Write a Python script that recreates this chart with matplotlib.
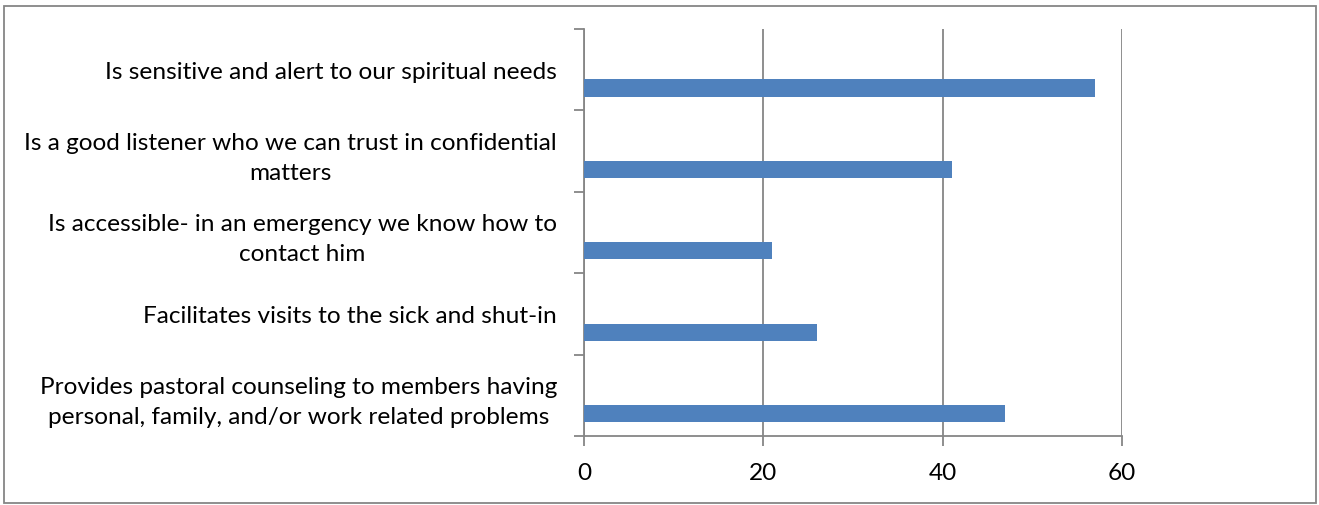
import matplotlib.pyplot as plt
from matplotlib.patches import Rectangle

categories = [
    "Is sensitive and alert to our spiritual needs",
    "Is a good listener who we can trust in confidential\nmatters",
    "Is accessible- in an emergency we know how to\ncontact him",
    "Facilitates visits to the sick and shut-in",
    "Provides pastoral counseling to members having\npersonal, family, and/or work related problems",
]
values = [57, 41, 21, 26, 47]
xticks = [0, 20, 40, 60]

plt.rcParams['font.family'] = ['Lato', 'DejaVu Sans']
grey = '#868686'
W, H = 1319, 506
fig = plt.figure(figsize=(W / 100, H / 100), dpi=100)

# outer chart frame
fig.patches.append(Rectangle((4 / W, 2 / H), 1312 / W, 497 / H, transform=fig.transFigure,
                             fill=False, edgecolor=grey, lw=1.3))

ax = fig.add_axes([584 / W, 1 - 437 / H, (1122 - 584) / W, (437 - 30) / H])

n = len(categories)
pos = list(range(n))
# bars sit in the lower part of each category band
ax.barh([p + 0.225 for p in pos], values, height=0.21, color='#4F81BD', zorder=3)

ax.set_ylim(n - 0.5, -0.5)
ax.set_xlim(0, 60)
ax.set_yticks(pos)
ax.set_yticklabels(categories, fontsize=17.6, multialignment='center', linespacing=1.5)
ax.set_yticks([p - 0.5 for p in range(n + 1)], minor=True)
ax.tick_params(axis='y', which='major', length=0, pad=19.4)
ax.tick_params(axis='y', which='minor', length=7, color=grey, width=1.3, direction='out')

ax.set_xticks(xticks)
ax.set_xticklabels([str(v) for v in xticks], fontsize=17.6)
ax.tick_params(axis='x', length=7, color=grey, width=1.3, direction='out', pad=12)

ax.grid(axis='x', color=grey, lw=1.3, zorder=0)
for s in ['top', 'right']:
    ax.spines[s].set_visible(False)
for s in ['left', 'bottom']:
    ax.spines[s].set_color(grey)
    ax.spines[s].set_linewidth(1.3)

plt.savefig('out.png', dpi=100)
